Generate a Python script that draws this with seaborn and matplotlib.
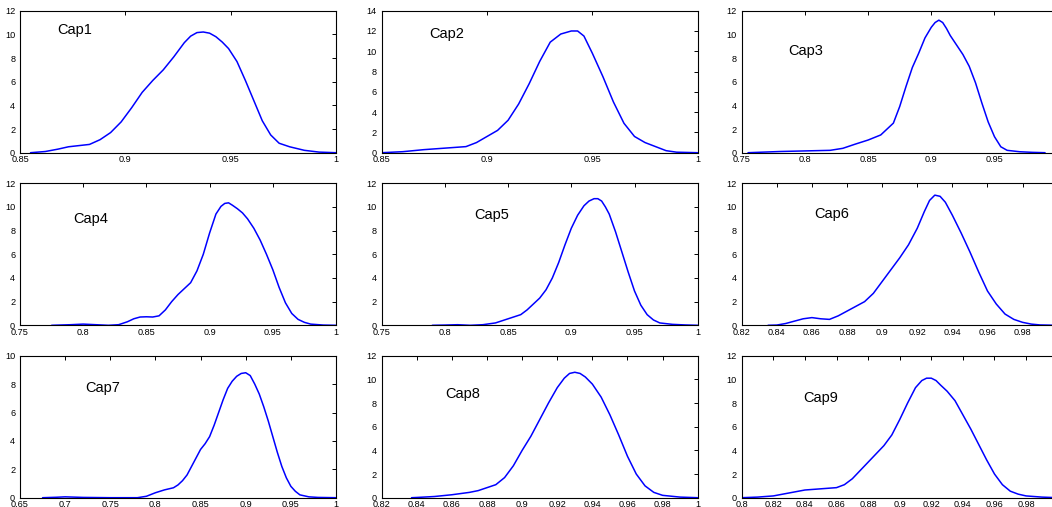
import matplotlib
matplotlib.use("Agg")
import matplotlib.pyplot as plt
import seaborn as sns
import pandas as pd

# ---------------- data ----------------
labels = ["Cap1", "Cap2", "Cap3", "Cap4", "Cap5", "Cap6", "Cap7", "Cap8", "Cap9"]

cap1_x = [0.855, 0.862, 0.868, 0.873, 0.878, 0.883, 0.888, 0.893, 0.898, 0.903, 0.908, 0.913,
          0.918, 0.923, 0.928, 0.931, 0.934, 0.937, 0.940, 0.943, 0.946, 0.949, 0.953, 0.957,
          0.961, 0.965, 0.969, 0.973, 0.978, 0.985, 0.992, 1.0]
cap1_y = [0.0, 0.1, 0.3, 0.5, 0.6, 0.7, 1.1, 1.7, 2.6, 3.8, 5.1, 6.1,
          7.0, 8.1, 9.3, 9.85, 10.15, 10.2, 10.1, 9.8, 9.35, 8.8, 7.7, 6.1,
          4.4, 2.7, 1.5, 0.8, 0.5, 0.2, 0.05, 0.0]

cap2_x = [0.85, 0.86, 0.87, 0.88, 0.89, 0.895, 0.9, 0.905, 0.91, 0.915, 0.92, 0.925, 0.93,
          0.935, 0.94, 0.943, 0.946, 0.95, 0.955, 0.96, 0.965, 0.97, 0.975, 0.98, 0.985,
          0.99, 1.0]
cap2_y = [0.0, 0.1, 0.3, 0.45, 0.6, 1.0, 1.6, 2.2, 3.2, 4.8, 6.8, 9.0, 10.9,
          11.7, 12.0, 12.0, 11.5, 9.8, 7.5, 5.0, 2.9, 1.6, 1.0, 0.6, 0.2,
          0.05, 0.0]

cap3_x = [0.755, 0.78, 0.8, 0.82, 0.83, 0.84, 0.85, 0.86, 0.87, 0.875, 0.88, 0.885, 0.89,
          0.895, 0.9, 0.903, 0.906, 0.909, 0.912, 0.915, 0.92, 0.925, 0.93, 0.935, 0.94,
          0.945, 0.95, 0.955, 0.96, 0.97, 0.98, 0.99]
cap3_y = [0.0, 0.1, 0.15, 0.2, 0.37, 0.73, 1.07, 1.5, 2.5, 3.9, 5.6, 7.2, 8.4,
          9.7, 10.6, 11.0, 11.2, 11.0, 10.5, 9.9, 9.1, 8.3, 7.3, 5.9, 4.2,
          2.6, 1.35, 0.5, 0.2, 0.08, 0.03, 0.0]

cap4_x = [0.775, 0.79, 0.8, 0.81, 0.82, 0.828, 0.835, 0.84, 0.845, 0.85, 0.855, 0.86, 0.865,
          0.87, 0.875, 0.88, 0.885, 0.89, 0.895, 0.9, 0.905, 0.909, 0.912, 0.915, 0.918,
          0.922, 0.926, 0.93, 0.935, 0.94, 0.945, 0.95, 0.955, 0.96, 0.965, 0.97, 0.975,
          0.98, 0.99, 1.0]
cap4_y = [0.0, 0.05, 0.1, 0.05, 0.0, 0.05, 0.3, 0.55, 0.7, 0.72, 0.7, 0.8, 1.3,
          2.0, 2.6, 3.1, 3.6, 4.6, 6.0, 7.8, 9.4, 10.05, 10.3, 10.35, 10.15,
          9.85, 9.5, 9.0, 8.2, 7.2, 6.0, 4.7, 3.2, 1.9, 1.0, 0.5, 0.25,
          0.1, 0.02, 0.0]

cap5_x = [0.79, 0.8, 0.81, 0.82, 0.83, 0.84, 0.85, 0.86, 0.865, 0.87, 0.875, 0.88, 0.885,
          0.89, 0.895, 0.9, 0.905, 0.91, 0.914, 0.918, 0.921, 0.924, 0.927, 0.93, 0.935,
          0.94, 0.945, 0.95, 0.955, 0.96, 0.965, 0.97, 0.98, 0.99, 1.0]
cap5_y = [0.0, 0.02, 0.05, 0.0, 0.05, 0.2, 0.55, 0.9, 1.3, 1.8, 2.3, 3.0, 4.0,
          5.3, 6.8, 8.2, 9.3, 10.1, 10.5, 10.7, 10.7, 10.5, 10.0, 9.4, 7.9,
          6.2, 4.5, 2.9, 1.7, 0.9, 0.45, 0.2, 0.08, 0.03, 0.0]

cap6_x = [0.835, 0.84, 0.845, 0.85, 0.855, 0.86, 0.865, 0.87, 0.875, 0.88, 0.885, 0.89,
          0.895, 0.9, 0.905, 0.91, 0.915, 0.92, 0.924, 0.927, 0.930, 0.933, 0.936, 0.94,
          0.945, 0.95, 0.955, 0.96, 0.965, 0.97, 0.975, 0.98, 0.985, 0.99, 1.0]
cap6_y = [0.0, 0.02, 0.15, 0.35, 0.55, 0.65, 0.55, 0.5, 0.8, 1.2, 1.6, 2.0,
          2.7, 3.7, 4.7, 5.7, 6.8, 8.2, 9.6, 10.55, 11.0, 10.9, 10.4, 9.3,
          7.8, 6.2, 4.5, 2.9, 1.8, 0.95, 0.5, 0.25, 0.1, 0.03, 0.0]

cap7_x = [0.675, 0.69, 0.7, 0.71, 0.72, 0.75, 0.78, 0.79, 0.8, 0.81, 0.82, 0.825, 0.83,
          0.835, 0.84, 0.845, 0.85, 0.855, 0.86, 0.865, 0.87, 0.875, 0.88, 0.885, 0.89,
          0.895, 0.9, 0.905, 0.91, 0.915, 0.92, 0.925, 0.93, 0.935, 0.94, 0.945, 0.95,
          0.955, 0.96, 0.97, 0.98, 1.0]
cap7_y = [0.0, 0.03, 0.06, 0.04, 0.02, 0.0, 0.0, 0.1, 0.35, 0.55, 0.7, 0.9, 1.2,
          1.6, 2.2, 2.8, 3.4, 3.8, 4.3, 5.1, 6.0, 6.9, 7.7, 8.2, 8.55,
          8.75, 8.8, 8.6, 8.0, 7.3, 6.4, 5.4, 4.3, 3.2, 2.2, 1.4, 0.8,
          0.45, 0.2, 0.06, 0.02, 0.0]

cap8_x = [0.837, 0.84, 0.85, 0.86, 0.87, 0.875, 0.88, 0.885, 0.89, 0.895, 0.9, 0.905, 0.91,
          0.915, 0.92, 0.924, 0.927, 0.930, 0.933, 0.936, 0.94, 0.945, 0.95, 0.955, 0.96,
          0.965, 0.97, 0.975, 0.98, 0.99, 1.0]
cap8_y = [0.0, 0.02, 0.1, 0.25, 0.45, 0.6, 0.85, 1.1, 1.7, 2.7, 4.0, 5.2, 6.6,
          8.0, 9.3, 10.1, 10.5, 10.6, 10.5, 10.2, 9.6, 8.5, 7.0, 5.3, 3.5,
          2.0, 1.0, 0.45, 0.2, 0.05, 0.0]

cap9_x = [0.8, 0.81, 0.82, 0.83, 0.84, 0.85, 0.86, 0.865, 0.87, 0.875, 0.88, 0.885, 0.89,
          0.895, 0.9, 0.905, 0.91, 0.914, 0.917, 0.920, 0.923, 0.926, 0.93, 0.935, 0.94,
          0.945, 0.95, 0.955, 0.96, 0.965, 0.97, 0.975, 0.98, 0.99, 1.0]
cap9_y = [0.0, 0.05, 0.15, 0.4, 0.65, 0.75, 0.85, 1.1, 1.6, 2.3, 3.0, 3.7, 4.4,
          5.3, 6.6, 8.0, 9.3, 9.9, 10.1, 10.1, 9.9, 9.5, 9.0, 8.2, 7.0,
          5.8, 4.5, 3.2, 2.0, 1.1, 0.55, 0.3, 0.15, 0.05, 0.0]

curves_x = [cap1_x, cap2_x, cap3_x, cap4_x, cap5_x, cap6_x, cap7_x, cap8_x, cap9_x]
curves_y = [cap1_y, cap2_y, cap3_y, cap4_y, cap5_y, cap6_y, cap7_y, cap8_y, cap9_y]

xlims = [(0.85, 1.0), (0.85, 1.0), (0.75, 1.0), (0.75, 1.0), (0.75, 1.0),
         (0.82, 1.0), (0.65, 1.0), (0.82, 1.0), (0.8, 1.0)]
xticks = [
    [0.85, 0.9, 0.95, 1.0],
    [0.85, 0.9, 0.95, 1.0],
    [0.75, 0.8, 0.85, 0.9, 0.95, 1.0],
    [0.75, 0.8, 0.85, 0.9, 0.95, 1.0],
    [0.75, 0.8, 0.85, 0.9, 0.95, 1.0],
    [0.82, 0.84, 0.86, 0.88, 0.9, 0.92, 0.94, 0.96, 0.98, 1.0],
    [0.65, 0.7, 0.75, 0.8, 0.85, 0.9, 0.95, 1.0],
    [0.82, 0.84, 0.86, 0.88, 0.9, 0.92, 0.94, 0.96, 0.98, 1.0],
    [0.8, 0.82, 0.84, 0.86, 0.88, 0.9, 0.92, 0.94, 0.96, 0.98, 1.0],
]
ymax = [12, 14, 12, 12, 12, 12, 10, 12, 12]
label_pos = [(0.8678, 10.4), (0.8726, 11.7), (0.7868, 8.6), (0.792, 9.0), (0.8235, 9.3),
             (0.8612, 9.4), (0.7222, 7.75), (0.8562, 8.8), (0.839, 8.4)]

# ---------------- style ----------------
sns.set_style("white")
plt.rcParams["font.family"] = ["Liberation Sans", "DejaVu Sans"]
plt.rcParams["xtick.direction"] = "in"
plt.rcParams["ytick.direction"] = "in"

W, H = 1052, 507
fig = plt.figure(figsize=(W / 100, H / 100), dpi=100)
fig.patch.set_facecolor("white")

col_left = [20, 381.7, 741.7]
row_top = [10.7, 183.3, 355.7]
aw, ah = 316, 142

def fmt(v):
    return f"{v:g}"

for i in range(9):
    r, c = divmod(i, 3)
    rect = [col_left[c] / W, (H - row_top[r] - ah) / H, aw / W, ah / H]
    ax = fig.add_axes(rect)
    df = pd.DataFrame({"x": curves_x[i], "y": curves_y[i]})
    sns.lineplot(data=df, x="x", y="y", ax=ax, color="#0000ff", linewidth=1.1)
    ax.set_xlim(*xlims[i])
    ax.set_ylim(0, ymax[i])
    ax.set_xticks(xticks[i])
    ax.set_xticklabels([fmt(v) for v in xticks[i]])
    yt = list(range(0, ymax[i] + 1, 2))
    ax.set_yticks(yt)
    ax.set_yticklabels([str(v) for v in yt])
    ax.set_xlabel("")
    ax.set_ylabel("")
    ax.tick_params(axis="both", which="both", direction="in", length=3, width=0.7,
                   labelsize=6.6, colors="black", top=True, right=True)
    ax.tick_params(axis="x", pad=2)
    ax.tick_params(axis="y", pad=3.5)
    for s in ax.spines.values():
        s.set_visible(True)
        s.set_color("black")
        s.set_linewidth(0.8)
    ax.text(label_pos[i][0], label_pos[i][1], labels[i], fontsize=10.5,
            va="center", ha="left", color="black")

fig.savefig("out.png", dpi=100)
